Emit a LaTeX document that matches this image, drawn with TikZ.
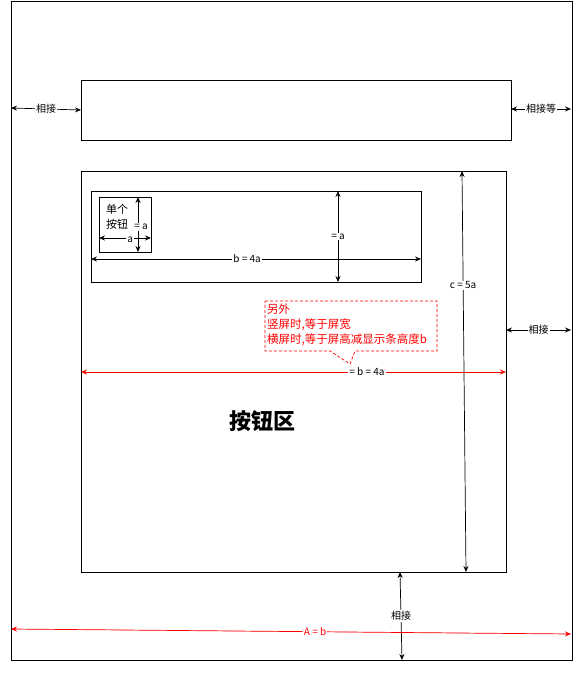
\documentclass[tikz,border=0pt]{standalone}
\usepackage{fontspec}
\setmainfont{Noto Sans CJK SC}
\usepackage{xcolor}
\usetikzlibrary{arrows.meta}
\definecolor{cRed}{RGB}{255,0,0}

\begin{document}
\begin{tikzpicture}[x=1pt,y=-1pt,
  box/.style={draw=black,line width=0.9pt},
  dim/.style={{Stealth[length=6pt,width=5pt]}-{Stealth[length=6pt,width=5pt]},line width=0.7pt},
  reddim/.style={dim,draw=cRed,fill=cRed},
  lbl/.style={fill=white,inner sep=1pt,font=\fontsize{10}{12}\selectfont},
  note/.style={draw=cRed,line width=0.7pt,dash pattern=on 3pt off 2pt}]
\useasboundingbox (0,0) rectangle (585,675);
% frames
\draw[box] (11,1) rectangle (572,660);
\draw[box] (81,80) rectangle (511,140);
\draw[box] (81,171) rectangle (506,572);
\draw[box] (91,191) rectangle (421,282);
\draw[box] (99,197) rectangle (151,252);
% end points
\coordinate (topL1) at (11,108);
\coordinate (topL2) at (81,110);
\coordinate (topR1) at (511,109);
\coordinate (topR2) at (571,109);
\coordinate (midR1) at (506,330);
\coordinate (midR2) at (571,330);
\coordinate (bot1) at (400,572);
\coordinate (bot2) at (402,660);
\coordinate (c1) at (462,171);
\coordinate (c2) at (466,572);
\coordinate (w1) at (81,372);
\coordinate (w2) at (506,372);
\coordinate (A1) at (11,629);
\coordinate (A2) at (571,634);
\coordinate (b1) at (91,259);
\coordinate (b2) at (421,259);
\coordinate (h1) at (338,191);
\coordinate (h2) at (338,282);
\coordinate (ka1) at (138,197);
\coordinate (ka2) at (138,252);
\coordinate (kb1) at (99,238);
\coordinate (kb2) at (151,238);
% dimensions
\draw[dim] (topL1) -- node[lbl] (lblTopL) {相接} (topL2);
\draw[dim] (topR1) -- node[lbl] (lblTopR) {相接等} (topR2);
\draw[dim] (midR1) -- node[lbl] (lblMidR) {相接} (midR2);
\draw[dim] (bot1) -- node[lbl] (lblBot) {相接} (bot2);
\draw[dim] (c1) -- node[lbl,pos=0.285] (lblC) {c = 5a} (c2);
\draw[dim] (b1) -- node[lbl,pos=0.473] (lblB) {b = 4a} (b2);
\draw[dim] (h1) -- node[lbl] (lblH) {= a} (h2);
\draw[dim] (ka1) -- node[lbl,pos=0.55,xshift=3pt] (lblKa) {= a} (ka2);
\draw[dim] (kb1) -- node[lbl,pos=0.6,yshift=-2pt] (lblKb) {a} (kb2);
\draw[reddim] (w1) -- node[lbl,pos=0.673] (lblW) {= b = 4a} (w2);
\draw[reddim] (A1) -- node[lbl,text=cRed,pos=0.543] (lblA) {A = b} (A2);
% texts
\node[align=center,font=\fontsize{11}{15}\selectfont] (single) at (117,217) {单个\\按钮};
\node[font=\fontsize{22}{26}\selectfont\bfseries] (area) at (262,421) {按钮区};
% note
\draw[note] (265,301) -- (437,301) -- (437,351) -- (355,351) -- (350,364) -- (330,351) -- (265,351) -- cycle;
\node[anchor=north west,align=left,text=cRed,inner sep=0pt,font=\fontsize{11.5}{15}\selectfont] (noteText) at (267,304)
  {另外\\竖屏时,等于屏宽\\横屏时,等于屏高减显示条高度b};
\end{tikzpicture}
\end{document}
